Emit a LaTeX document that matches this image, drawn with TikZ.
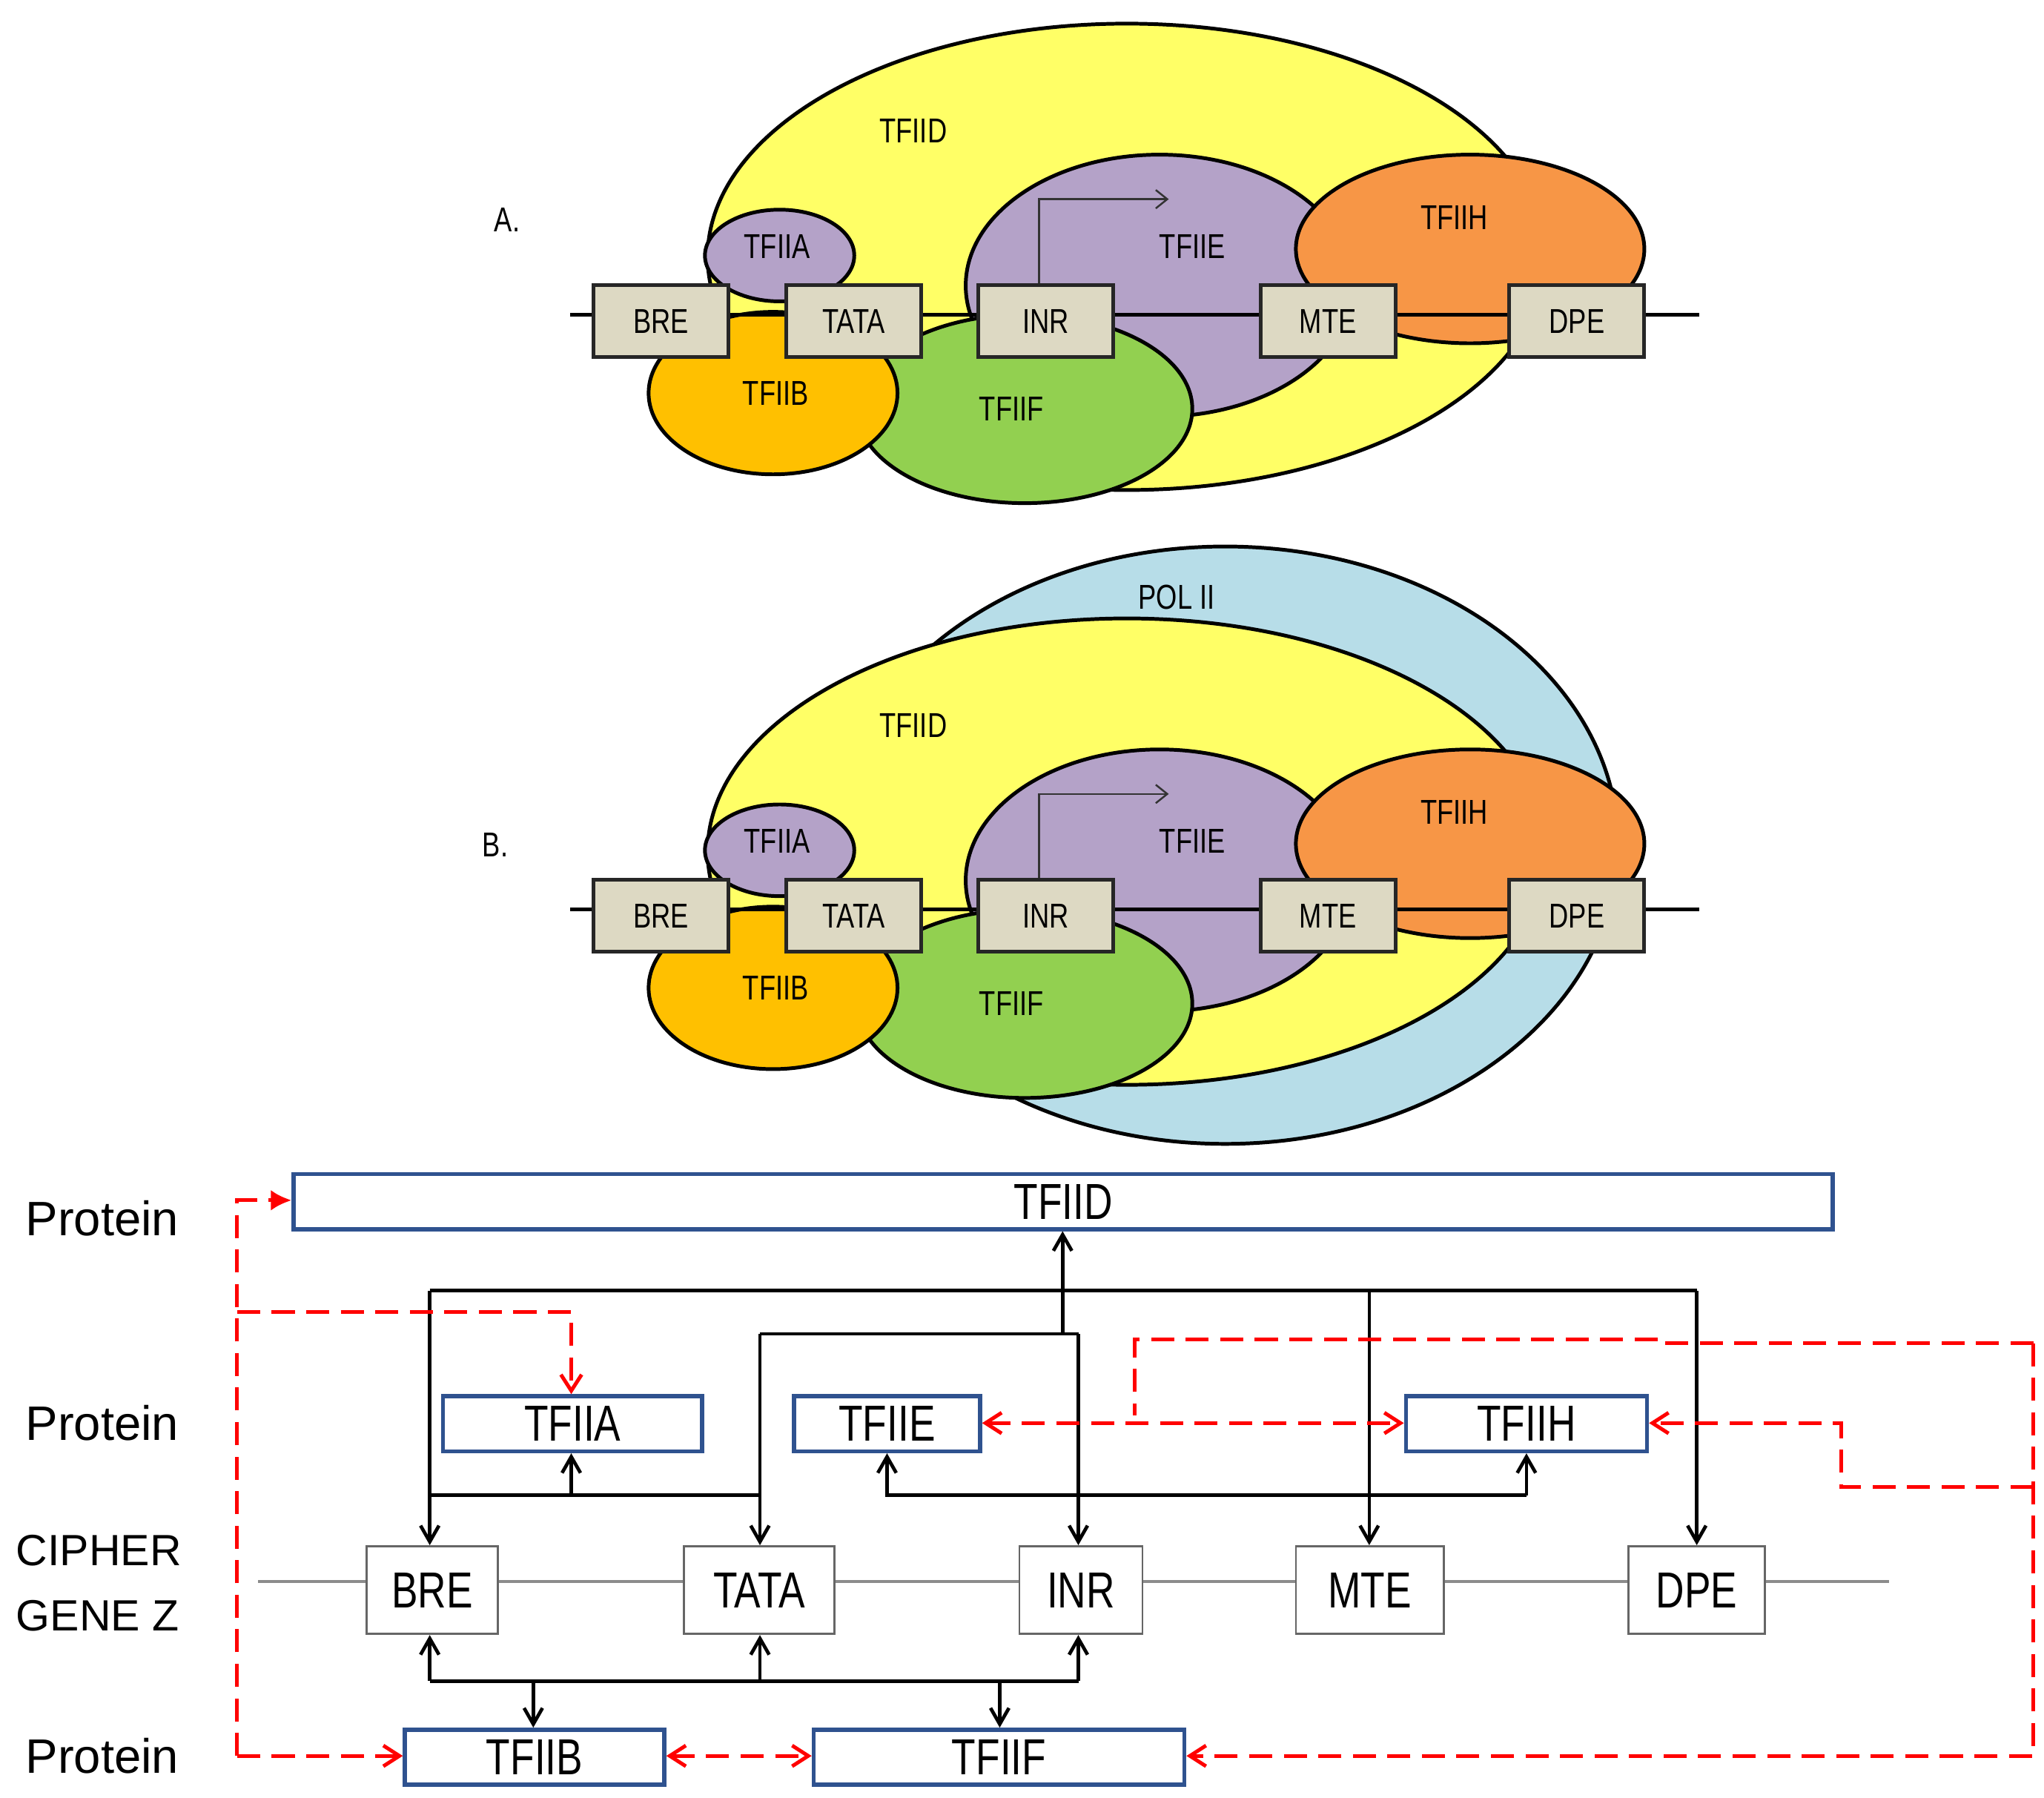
\documentclass[tikz,border=0pt]{standalone}
\usepackage{fontspec}
\setmainfont{Liberation Sans}
\usetikzlibrary{shapes.geometric,arrows.meta}
\definecolor{cD}{HTML}{FFFF66}
\definecolor{cE}{HTML}{B4A2C8}
\definecolor{cH}{HTML}{F79646}
\definecolor{cB}{HTML}{FFC000}
\definecolor{cF}{HTML}{92D050}
\definecolor{cbox}{HTML}{DDD9C3}
\definecolor{cpol}{HTML}{B7DDE8}
\definecolor{cblue}{HTML}{2F528F}
\newcommand\nar[1]{\scalebox{0.78}[1]{#1}}
\tikzset{
 blob/.style={ellipse,draw=black,line width=1.6pt,inner sep=0pt},
 elem/.style={draw=black!85,line width=1.6pt,fill=cbox,minimum width=2.06cm,minimum height=1.1cm,inner sep=0pt,font=\fontsize{15}{15}\selectfont},
 lab/.style={font=\fontsize{15}{15}\selectfont,inner sep=0pt},
 prot/.style={draw=cblue,line width=1.8pt,fill=white,minimum height=0.84cm,inner sep=0pt,font=\fontsize{22}{22}\selectfont},
 gene/.style={draw=black!60,line width=0.9pt,fill=white,minimum height=1.34cm,inner sep=0pt,font=\fontsize{22}{22}\selectfont},
 side/.style={font=\fontsize{21}{21}\selectfont,inner sep=0pt},
 blk/.style={line width=1.5pt,draw=black},
 arr/.style={blk,-{Straight Barb[length=7pt,width=8pt]}},
 red/.style={draw=red,line width=1.6pt,dash pattern=on 10pt off 5pt},
 rarr/.style={red,-{Straight Barb[length=7pt,width=9pt]}},
}
\newcommand\panel[2]{%
 \begin{scope}[yshift=#2]
 \node[blob,fill=cD,minimum width=12.8cm,minimum height=7.12cm] (#1D) at (860,196) {};
 \node[blob,fill=cE,minimum width=5.92cm,minimum height=4.0cm] (#1E) at (885,218) {};
 \node[blob,fill=cH,minimum width=5.32cm,minimum height=2.88cm] (#1H) at (1122,190) {};
 \node[blob,fill=cF,minimum width=5.12cm,minimum height=2.88cm] (#1F) at (782,312) {};
 \node[blob,fill=cB,minimum width=3.8cm,minimum height=2.48cm] (#1B) at (590,300) {};
 \node[blob,fill=cE,minimum width=2.28cm,minimum height=1.4cm] (#1A) at (595,195) {};
 \coordinate (#1l) at (435,240); \coordinate (#1r) at (1297,240);
 \draw[line width=1.6pt] (#1l) -- (#1r);
 \node[elem] (#1bre) at (504.5,245) {\nar{BRE}};
 \node[elem] (#1tata) at (651.5,245) {\nar{TATA}};
 \node[elem] (#1inr) at (798,245) {\nar{INR}};
 \node[elem] (#1mte) at (1013.5,245) {\nar{MTE}};
 \node[elem] (#1dpe) at (1203.5,245) {\nar{DPE}};
 \coordinate (#1arr) at (892,152);
 \draw[line width=0.8pt,black!80,-{Straight Barb[length=5pt,width=8pt]}] (#1inr.north -| 793,0) |- (#1arr);
 \node[lab] (#1tD) at (697,100) {\nar{TFIID}};
 \node[lab] (#1tA) at (593,188) {\nar{TFIIA}};
 \node[lab] (#1tE) at (910,188) {\nar{TFIIE}};
 \node[lab] (#1tH) at (1110,166) {\nar{TFIIH}};
 \node[lab] (#1tB) at (592,300) {\nar{TFIIB}};
 \node[lab] (#1tF) at (772,312) {\nar{TFIIF}};
 \end{scope}}
\begin{document}
\begin{tikzpicture}[x=0.02cm,y=-0.02cm]
\useasboundingbox (0,0) rectangle (1560,1372);
\panel{a}{0cm}
\node[lab] (labA) at (387,168) {\nar{A.}};
% panel B
\node[blob,fill=cpol,minimum width=12cm,minimum height=9.12cm] (pol) at (935,645) {};
\panel{b}{-9.08cm}
\node[lab] (polt) at (898,456) {\nar{POL II}};
\node[lab] (labB) at (378,645) {\nar{B.}};
% lower panel
\node[side] (p1) at (78,930) {Protein};
\node[side] (p2) at (78,1086) {Protein};
\node[side] (p3) at (78,1340) {Protein};
\node[side,anchor=west,font=\fontsize{19}{19}\selectfont] (c1) at (12,1183) {CIPHER};
\node[side,anchor=west,font=\fontsize{19}{19}\selectfont] (c2) at (12,1233) {GENE Z};
\node[prot,minimum width=23.5cm] (D) at (811.5,917) {\nar{TFIID}};
\node[prot,minimum width=3.96cm] (A) at (437,1086.5) {\nar{TFIIA}};
\node[prot,minimum width=2.84cm] (E) at (677,1086.5) {\nar{TFIIE}};
\node[prot,minimum width=3.68cm] (H) at (1165,1086.5) {\nar{TFIIH}};
\node[prot,minimum width=3.96cm] (B) at (408,1341) {\nar{TFIIB}};
\node[prot,minimum width=5.66cm] (F) at (762.5,1341) {\nar{TFIIF}};
\coordinate (gl) at (197,1207); \coordinate (gr) at (1442,1207);
\draw[black!45,line width=1.4pt] (gl) -- (gr);
\node[gene,minimum width=2.0cm] (g1) at (330,1213.5) {\nar{BRE}};
\node[gene,minimum width=2.3cm] (g2) at (579.5,1213.5) {\nar{TATA}};
\node[gene,minimum width=1.88cm] (g3) at (825,1213.5) {\nar{INR}};
\node[gene,minimum width=2.26cm] (g4) at (1045.5,1213.5) {\nar{MTE}};
\node[gene,minimum width=2.08cm] (g5) at (1295,1213.5) {\nar{DPE}};
% black buses
\coordinate (b1l) at (328,985); \coordinate (b1r) at (1295,985);
\draw[blk] (b1l) -- (b1r);
\draw[arr] (b1l) -- (g1.north -| b1l);
\draw[arr] (1045,985) -- (g4.north -| 1045,0);
\draw[arr] (b1r) -- (g5.north -| b1r);
\coordinate (b2l) at (580,1018); \coordinate (b2r) at (823,1018);
\draw[blk] (b2l) -- (b2r);
\draw[arr] (b2l) -- (g2.north -| b2l);
\draw[arr] (b2r) -- (g3.north -| b2r);
\draw[arr] (811,1018) -- (D.south -| 811,0);
\coordinate (b3l) at (328,1141); \coordinate (b3r) at (580,1141);
\draw[blk] (b3l) -- (b3r);
\draw[arr] (436,1141) -- (A.south -| 436,0);
\coordinate (b4l) at (677,1141); \coordinate (b4r) at (1165,1141);
\draw[arr] (b4r) -- (b4l) -- (E.south -| b4l);
\draw[arr] (b4r) -- (H.south -| b4r);
\coordinate (b5l) at (328,1283); \coordinate (b5r) at (823,1283);
\draw[blk] (b5l) -- (b5r);
\draw[arr] (b5l) -- (g1.south -| b5l);
\draw[arr] (580,1283) -- (g2.south -| 580,0);
\draw[arr] (b5r) -- (g3.south -| b5r);
\draw[arr] (407,1283) -- (B.north -| 407,0);
\draw[arr] (763,1283) -- (F.north -| 763,0);
% red dashed
\coordinate (rl1) at (181,916); \coordinate (rl2) at (181,1340);
\draw[red,-{Latex[length=9pt,width=9pt]}] (rl2) -- (rl1) -- (D.west |- rl1);
\draw[rarr] (rl2) -- (B.west |- rl2);
\coordinate (ra) at (181,1001);
\draw[rarr] (ra) -| (A.north -| 436,0);
\draw[rarr,{Straight Barb[length=7pt,width=9pt]}-{Straight Barb[length=7pt,width=9pt]}] (B.east |- 0,1340) -- (F.west |- 0,1340);
\coordinate (rr1) at (1552,1340); \coordinate (rr2) at (1552,1025); \coordinate (rr3) at (866,1022); \coordinate (rr4) at (866,1080);
\draw[rarr] (rr2) -- (rr1) -- (F.east |- rr1);
\draw[red] (rr2) -- (1270,1025) -- (1270,1022) -- (rr3) -- (rr4);
\draw[rarr,{Straight Barb[length=7pt,width=9pt]}-{Straight Barb[length=7pt,width=9pt]}] (E.east |- 0,1086) -- (H.west |- 0,1086);
\coordinate (rh1) at (1405,1086); \coordinate (rh2) at (1405,1135); \coordinate (rh3) at (1552,1135);
\draw[rarr] (rh3) -- (rh2) -- (rh1) -- (H.east |- rh1);
\end{tikzpicture}
\end{document}
